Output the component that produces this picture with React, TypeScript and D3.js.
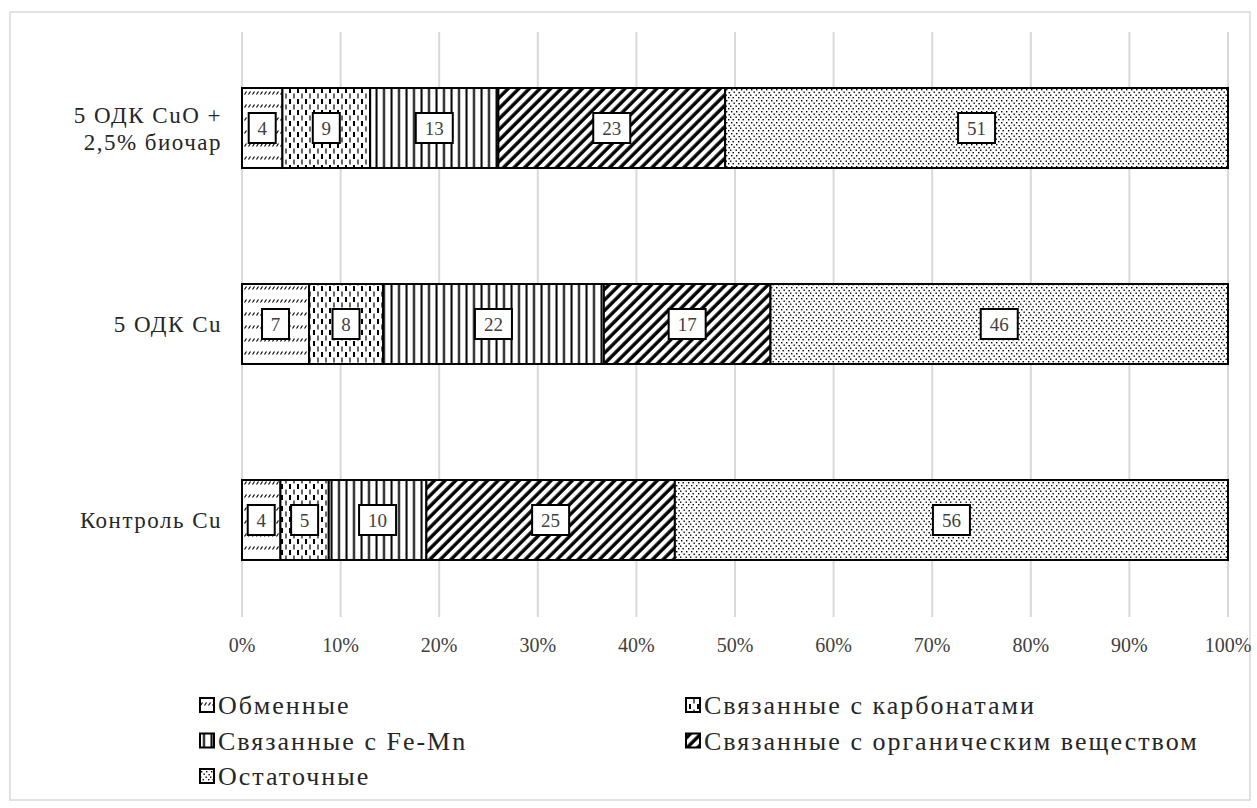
import React from "react";
import * as d3 from "d3";

const categories = ["5 ОДК CuO + 2,5% биочар", "5 ОДК Cu", "Контроль Cu"];
const categoryLines = [["5 ОДК CuO +", "2,5% биочар"], ["5 ОДК Cu"], ["Контроль Cu"]];
const seriesNames = [
  "Обменные",
  "Связанные с карбонатами",
  "Связанные с Fe-Mn",
  "Связанные с органическим веществом",
  "Остаточные",
];
// values per category (percent), order of seriesNames
const obmennye = [4.1, 6.8, 3.9];
const karbonaty = [8.9, 7.5, 4.9];
const feMn = [13.0, 22.4, 9.9];
const organika = [23.0, 16.9, 25.2];
const ostatochnye = [51.0, 46.4, 56.1];
const seriesValues = [obmennye, karbonaty, feMn, organika, ostatochnye];
const tickValues = [0, 0.1, 0.2, 0.3, 0.4, 0.5, 0.6, 0.7, 0.8, 0.9, 1.0];

const patternIds = ["p-obm", "p-carb", "p-femn", "p-org", "p-ost"];
const FONT = "'Liberation Serif', 'Times New Roman', serif";

export default function App() {
  const W = 1257, H = 808;
  const x = d3.scaleLinear().domain([0, 1]).range([242, 1228]);
  const y = d3.scaleBand<string>().domain(categories).range([30, 618]).paddingInner(0.592).paddingOuter(0.296);

  const rows = categories.map((c, ci) => {
    const vals = seriesValues.map((s) => s[ci]);
    const total = d3.sum(vals);
    let acc = 0;
    return vals.map((v, si) => {
      const x0 = acc / total;
      acc += v;
      return { c, si, v, x0, x1: acc / total };
    });
  });

  const dots: [number, number][] = [[1, 1], [6, 1], [3.5, 3.5], [8.5, 4], [0, 6.5], [5.5, 6.5], [2.5, 9], [8, 9]];

  return (
    <svg width={W} height={H} style={{ position: "absolute", left: 0, top: 0, background: "#fff", fontFamily: FONT }}>
      <defs>
        <pattern id="p-obm" width="8" height="13" patternUnits="userSpaceOnUse">
          <rect width="8" height="13" fill="#fff" />
          <path d="M0.5,3.5 L2.5,0.5 M4.5,3.5 L6.5,0.5" stroke="#000" strokeWidth="1.2" />
        </pattern>
        <pattern id="p-carb" width="8" height="11" patternUnits="userSpaceOnUse">
          <rect width="8" height="11" fill="#fff" />
          <path d="M2,0 V5" stroke="#000" strokeWidth="2" />
          <path d="M6,5.5 V10.5" stroke="#000" strokeWidth="1.2" />
        </pattern>
        <pattern id="p-femn" width="7.5" height="8" patternUnits="userSpaceOnUse">
          <rect width="7.5" height="8" fill="#fff" />
          <path d="M1.5,0 V8" stroke="#000" strokeWidth="2" />
        </pattern>
        <pattern id="p-org" width="7.5" height="8" patternUnits="userSpaceOnUse" patternTransform="rotate(45)">
          <rect width="7.5" height="8" fill="#fff" />
          <path d="M2,0 V8" stroke="#000" strokeWidth="3.4" />
        </pattern>
        <pattern id="p-ost" width="10" height="11" patternUnits="userSpaceOnUse">
          <rect width="10" height="11" fill="#fff" />
          {dots.map(([dx, dy], i) => (
            <rect key={i} x={dx} y={dy} width="1.4" height="1.4" fill="#000" />
          ))}
        </pattern>
      </defs>

      <rect x={10} y={12} width={1240} height={788} fill="#fff" stroke="#d9d9d9" strokeWidth={1.5} />

      {tickValues.map((t) => (
        <line key={t} x1={x(t)} x2={x(t)} y1={32} y2={617} stroke="#d9d9d9" strokeWidth={2} />
      ))}

      {rows.map((segs, ci) =>
        segs.map((s) => (
          <rect
            key={ci + "-" + s.si}
            x={x(s.x0)}
            y={y(s.c)!}
            width={x(s.x1) - x(s.x0)}
            height={y.bandwidth()}
            fill={`url(#${patternIds[s.si]})`}
            stroke="#000"
            strokeWidth={2}
          />
        ))
      )}

      {rows.map((segs, ci) =>
        segs.map((s) => {
          const label = String(Math.round(s.v));
          const bw = label.length * 10 + 17;
          const cx = (x(s.x0) + x(s.x1)) / 2;
          const cy = y(s.c)! + y.bandwidth() / 2;
          return (
            <g key={"l" + ci + "-" + s.si}>
              <rect x={cx - bw / 2} y={cy - 15} width={bw} height={30} fill="#fff" stroke="#000" strokeWidth={2} />
              <text x={cx} y={cy} dy="0.36em" textAnchor="middle" fontSize={19} fill="#404040">
                {label}
              </text>
            </g>
          );
        })
      )}

      {categories.map((c, ci) => {
        const lines = categoryLines[ci];
        const cy = y(c)! + y.bandwidth() / 2;
        return (
          <text key={c} x={222} textAnchor="end" fontSize={23} letterSpacing={1.5} fill="#262626">
            {lines.map((ln, li) => (
              <tspan key={li} x={222} y={cy + (li - (lines.length - 1) / 2) * 27} dy="0.35em">
                {ln}
              </tspan>
            ))}
          </text>
        );
      })}

      {tickValues.map((t) => (
        <text key={"t" + t} x={x(t)} y={645} dy="0.35em" textAnchor="middle" fontSize={20} fill="#404040">
          {d3.format(".0%")(t)}
        </text>
      ))}

      {seriesNames.map((name, i) => {
        const col = i % 2;
        const row = Math.floor(i / 2);
        const ix = col === 0 ? 200 : 686;
        const cy = 705 + row * 35.5;
        return (
          <g key={name}>
            <rect x={ix} y={cy - 7} width={14} height={14} fill={`url(#${patternIds[i]})`} stroke="#000" strokeWidth={2} />
            <text x={ix + 18} y={cy} dy="0.35em" fontSize={26} letterSpacing={2} fill="#262626">
              {name}
            </text>
          </g>
        );
      })}
    </svg>
  );
}
